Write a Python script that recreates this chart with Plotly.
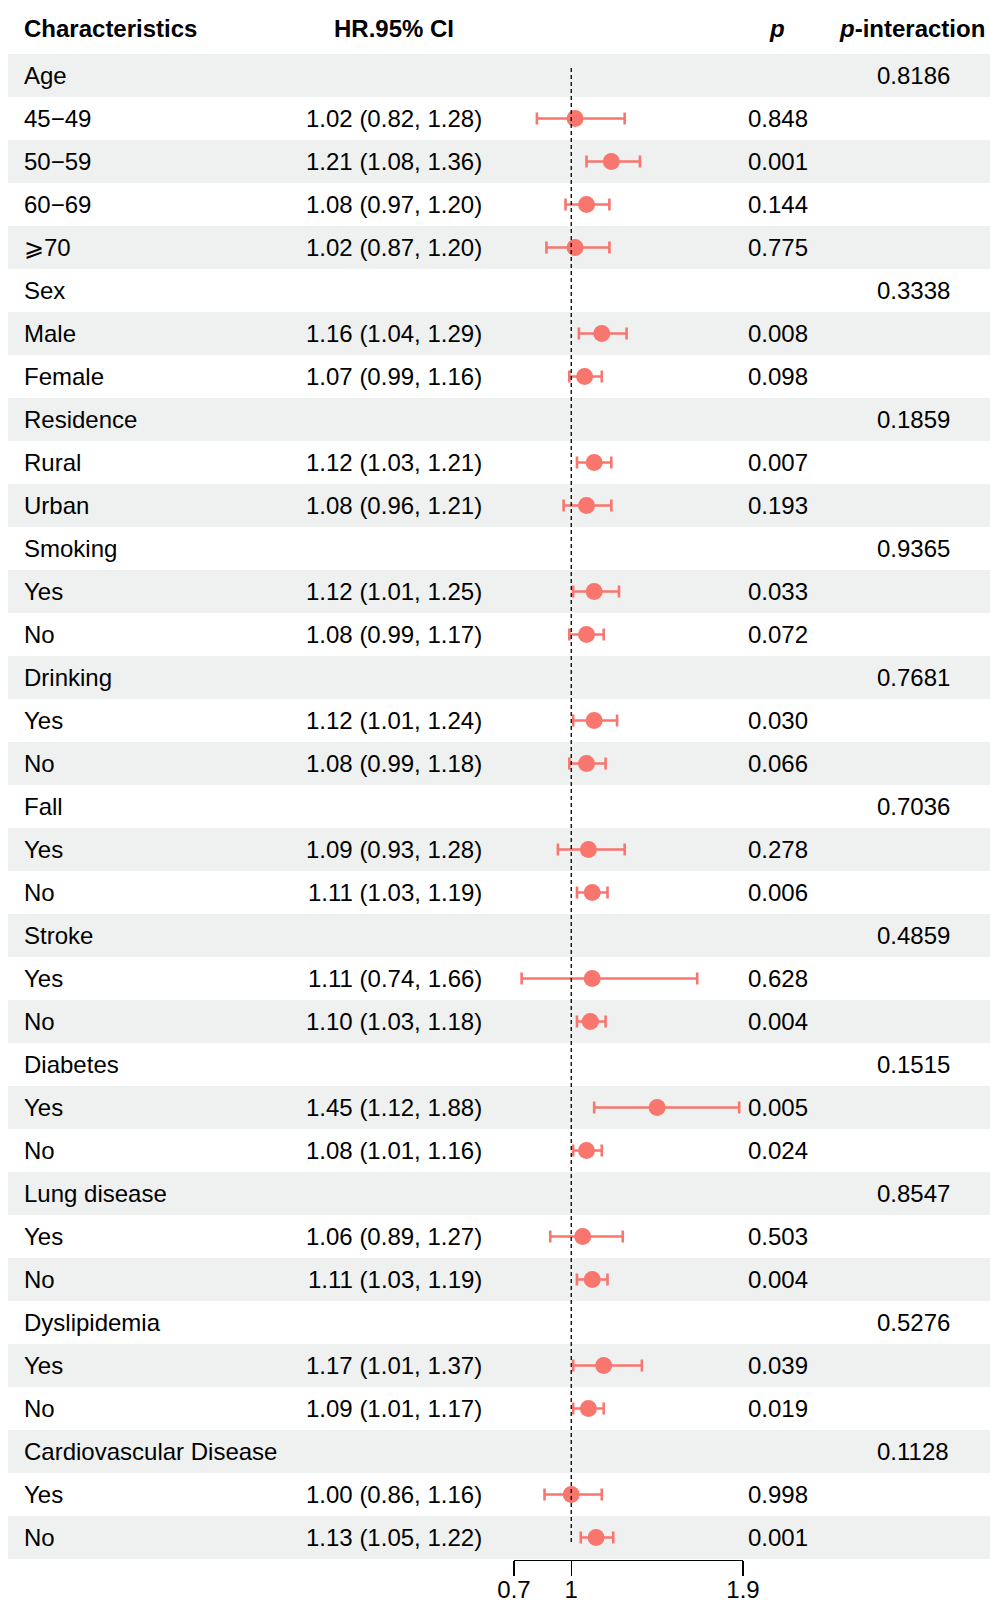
import plotly.graph_objects as go

# ---------------- data ----------------
labels = ["Age", "45\u221249", "50\u221259", "60\u221269", "\u2A7E70",
          "Sex", "Male", "Female",
          "Residence", "Rural", "Urban",
          "Smoking", "Yes", "No",
          "Drinking", "Yes", "No",
          "Fall", "Yes", "No",
          "Stroke", "Yes", "No",
          "Diabetes", "Yes", "No",
          "Lung disease", "Yes", "No",
          "Dyslipidemia", "Yes", "No",
          "Cardiovascular Disease", "Yes", "No"]
hr = [None, 1.02, 1.21, 1.08, 1.02,
      None, 1.16, 1.07,
      None, 1.12, 1.08,
      None, 1.12, 1.08,
      None, 1.12, 1.08,
      None, 1.09, 1.11,
      None, 1.11, 1.10,
      None, 1.45, 1.08,
      None, 1.06, 1.11,
      None, 1.17, 1.09,
      None, 1.00, 1.13]
lo = [None, 0.82, 1.08, 0.97, 0.87,
      None, 1.04, 0.99,
      None, 1.03, 0.96,
      None, 1.01, 0.99,
      None, 1.01, 0.99,
      None, 0.93, 1.03,
      None, 0.74, 1.03,
      None, 1.12, 1.01,
      None, 0.89, 1.03,
      None, 1.01, 1.01,
      None, 0.86, 1.05]
hi = [None, 1.28, 1.36, 1.20, 1.20,
      None, 1.29, 1.16,
      None, 1.21, 1.21,
      None, 1.25, 1.17,
      None, 1.24, 1.18,
      None, 1.28, 1.19,
      None, 1.66, 1.18,
      None, 1.88, 1.16,
      None, 1.27, 1.19,
      None, 1.37, 1.17,
      None, 1.16, 1.22]
p_vals = ["", "0.848", "0.001", "0.144", "0.775",
          "", "0.008", "0.098",
          "", "0.007", "0.193",
          "", "0.033", "0.072",
          "", "0.030", "0.066",
          "", "0.278", "0.006",
          "", "0.628", "0.004",
          "", "0.005", "0.024",
          "", "0.503", "0.004",
          "", "0.039", "0.019",
          "", "0.998", "0.001"]
p_inter = ["0.8186", "", "", "", "",
           "0.3338", "", "",
           "0.1859", "", "",
           "0.9365", "", "",
           "0.7681", "", "",
           "0.7036", "", "",
           "0.4859", "", "",
           "0.1515", "", "",
           "0.8547", "", "",
           "0.5276", "", "",
           "0.1128", "", ""]
tick_vals = [0.7, 1, 1.9]
tick_text = ["0.7", "1", "1.9"]
headers = ["Characteristics", "HR.95% CI", "<i>p</i>", "<i>p</i>-interaction"]

# ---------------- layout constants ----------------
W, H = 990, 1600
TOP, ROW_H = 54, 43          # pixel top of first row and row height
FONT = "Liberation Sans, Arial, Helvetica, sans-serif"
FS = 24
COLOR = "#F8766D"
BAND = "#EEF1F0"

n = len(labels)
rows = list(range(n))


def pix_to_row(p):
    return (p - TOP) / ROW_H - 0.5


fig = go.Figure()

# background bands
shapes = []
for i in rows:
    if i % 2 == 0:
        shapes.append(dict(type="rect", xref="paper", yref="y", x0=8 / W, x1=1,
                           y0=i - 0.5, y1=i + 0.5, fillcolor=BAND,
                           line=dict(width=0), layer="below"))
# reference line at HR = 1
shapes.append(dict(type="line", xref="x", yref="y", x0=1, x1=1,
                   y0=pix_to_row(68), y1=pix_to_row(1545),
                   line=dict(color="black", width=1.3, dash="4px,3px"), layer="above"))

# forest points
xs, ys, ep, em = [], [], [], []
for i in rows:
    if hr[i] is not None:
        xs.append(hr[i])
        ys.append(i)
        ep.append(hi[i] - hr[i])
        em.append(hr[i] - lo[i])
fig.add_trace(go.Scatter(
    x=xs, y=ys, mode="markers",
    marker=dict(color=COLOR, size=17, line=dict(width=0)),
    error_x=dict(type="data", symmetric=False, array=ep, arrayminus=em,
                 color=COLOR, thickness=2.6, width=6),
    showlegend=False, hoverinfo="skip",
))

# text annotations
ann = []
hdr_row = pix_to_row(28)
hfont = dict(family=FONT, size=FS, color="black")
ann.append(dict(x=22 / W, y=hdr_row, xref="paper", yref="y", text="<b>" + headers[0] + "</b>",
                xanchor="left", showarrow=False, font=hfont))
ann.append(dict(x=394 / W, y=hdr_row, xref="paper", yref="y", text="<b>" + headers[1] + "</b>",
                xanchor="center", showarrow=False, font=hfont))
ann.append(dict(x=777 / W, y=hdr_row, xref="paper", yref="y", text="<b>" + headers[2] + "</b>",
                xanchor="center", showarrow=False, font=hfont))
ann.append(dict(x=912 / W, y=hdr_row, xref="paper", yref="y", text="<b>" + headers[3] + "</b>",
                xanchor="center", showarrow=False, font=hfont))

tfont = dict(family=FONT, size=FS, color="black")
for i in rows:
    ann.append(dict(x=22 / W, y=i, xref="paper", yref="y", text=labels[i],
                    xanchor="left", showarrow=False, font=tfont))
    if hr[i] is not None:
        ann.append(dict(x=484 / W, y=i, xref="paper", yref="y",
                        text=f"{hr[i]:.2f} ({lo[i]:.2f}, {hi[i]:.2f})",
                        xanchor="right", showarrow=False, font=tfont))
    if p_vals[i]:
        ann.append(dict(x=778 / W, y=i, xref="paper", yref="y", text=p_vals[i],
                        xanchor="center", showarrow=False, font=tfont))
    if p_inter[i]:
        ann.append(dict(x=913 / W, y=i, xref="paper", yref="y", text=p_inter[i],
                        xanchor="center", showarrow=False, font=tfont))

x0_pix, x1_pix = 514, 743
fig.update_layout(
    template="none",
    width=W, height=H,
    margin=dict(l=0, r=0, t=0, b=0, pad=0, autoexpand=False),
    paper_bgcolor="white", plot_bgcolor="rgba(0,0,0,0)",
    shapes=shapes, annotations=ann,
    xaxis=dict(domain=[x0_pix / W, x1_pix / W], range=[0.7, 1.9],
               tickvals=tick_vals, ticktext=tick_text,
               showline=True, linecolor="black", linewidth=1.3,
               ticks="outside", ticklen=15, tickwidth=1.3, tickcolor="black",
               ticklabelstandoff=-7,
               showgrid=False, zeroline=False, automargin=False,
               anchor="free", position=1 - 1560 / H,
               tickfont=dict(family=FONT, size=FS, color="black")),
    yaxis=dict(domain=[0, 1], range=[pix_to_row(H), pix_to_row(0)],
               showgrid=False, zeroline=False, showticklabels=False, showline=False,
               automargin=False, ticks=""),
)

fig.write_html("out.html",
               config={"displayModeBar": False, "staticPlot": True},
               post_script="document.body.style.margin='0';document.body.style.overflow='hidden';")
